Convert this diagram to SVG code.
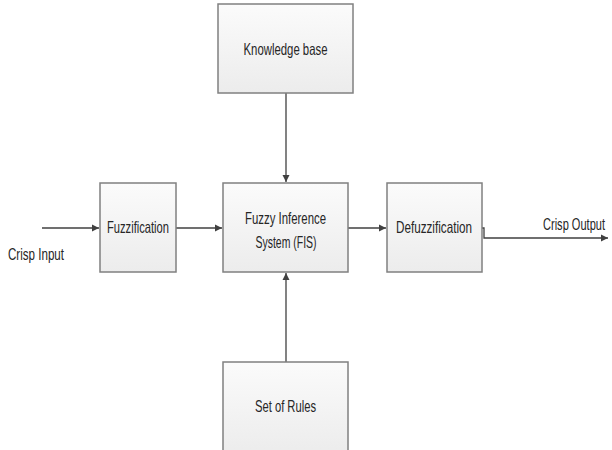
<svg xmlns="http://www.w3.org/2000/svg" width="612" height="450" viewBox="0 0 612 450">
<style>
.box{fill:url(#g);stroke:#808080;stroke-width:1.5}
.t{font-family:"Liberation Sans",Arial,sans-serif;font-size:16.5px;fill:#262626;text-anchor:middle}
.tl{font-family:"Liberation Sans",Arial,sans-serif;font-size:16.5px;fill:#262626}
.c{fill:none;stroke:#404040;stroke-width:1.3}
</style>
<defs>
<linearGradient id="g" x1="0" y1="0" x2="0" y2="1">
<stop offset="0" stop-color="#fbfbfb"/>
<stop offset="1" stop-color="#ececec"/>
</linearGradient>
<marker id="a" markerWidth="8" markerHeight="8" refX="7" refY="4" orient="auto" markerUnits="userSpaceOnUse">
<path d="M0,0.5 L7,4 L0,7.5 Z" fill="#404040"/>
</marker>
</defs>
<g id="connectors">
<line class="c" x1="42" y1="228" x2="99" y2="228" marker-end="url(#a)"/>
<line class="c" x1="176" y1="228" x2="222" y2="228" marker-end="url(#a)"/>
<line class="c" x1="348" y1="228" x2="386" y2="228" marker-end="url(#a)"/>
<line class="c" x1="286" y1="93" x2="286" y2="182" marker-end="url(#a)"/>
<line class="c" x1="286" y1="362" x2="286" y2="273" marker-end="url(#a)"/>
<polyline class="c" points="482,228 484,228 484,238 608,238" marker-end="url(#a)"/>
</g>
<g id="crisp-input"><text class="tl" x="8" y="260" textLength="56" lengthAdjust="spacingAndGlyphs">Crisp Input</text></g>
<g id="crisp-output"><text class="tl" x="605" y="230" text-anchor="end" textLength="62" lengthAdjust="spacingAndGlyphs">Crisp Output</text></g>
<g id="knowledge-base">
<rect class="box" x="218" y="4" width="135" height="89"/>
<text class="t" x="285.5" y="55" textLength="84" lengthAdjust="spacingAndGlyphs">Knowledge base</text>
</g>
<g id="fuzzification">
<rect class="box" x="100" y="183" width="76" height="89"/>
<text class="t" x="138" y="233" textLength="62" lengthAdjust="spacingAndGlyphs">Fuzzification</text>
</g>
<g id="fis">
<rect class="box" x="223" y="183" width="125" height="89"/>
<text class="t" x="285.5" y="224" textLength="81" lengthAdjust="spacingAndGlyphs">Fuzzy Inference</text>
<text class="t" x="286" y="248" textLength="61" lengthAdjust="spacingAndGlyphs">System (FIS)</text>
</g>
<g id="defuzzification">
<rect class="box" x="387" y="183" width="95" height="89"/>
<text class="t" x="434" y="233" textLength="76" lengthAdjust="spacingAndGlyphs">Defuzzification</text>
</g>
<g id="set-of-rules">
<rect class="box" x="223" y="362" width="125" height="92"/>
<text class="t" x="285.5" y="412" textLength="61" lengthAdjust="spacingAndGlyphs">Set of Rules</text>
</g>
</svg>
